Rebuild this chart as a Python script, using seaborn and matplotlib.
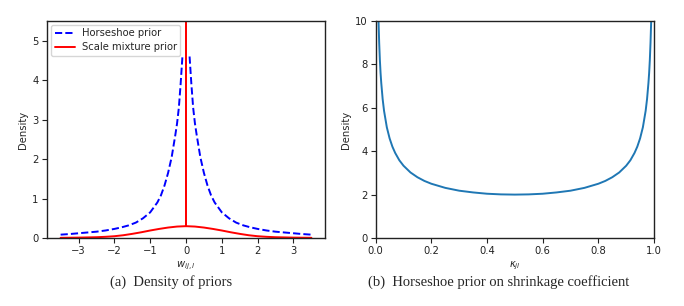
import numpy as np
import matplotlib
matplotlib.use("Agg")
import matplotlib.pyplot as plt
import seaborn as sns

# ---- data ----
# horseshoe prior (positive side; symmetric about 0, undefined at 0)
hs_x_pos = [0.1, 0.15, 0.2, 0.25, 0.3, 0.4, 0.5, 0.6, 0.7, 0.8, 1.0, 1.2, 1.4,
            1.6, 1.8, 2.0, 2.25, 2.5, 2.75, 3.0, 3.25, 3.5]
hs_y_pos = [4.6, 3.9, 3.3, 2.9, 2.6, 2.05, 1.65, 1.33, 1.08, 0.9, 0.65, 0.5, 0.39,
            0.32, 0.27, 0.23, 0.19, 0.16, 0.14, 0.12, 0.10, 0.085]
# scale mixture prior (positive side) plus spike at 0
sm_x_pos = [0.0, 0.25, 0.5, 0.75, 1.0, 1.25, 1.5, 1.75, 2.0, 2.25, 2.5, 3.0, 3.5]
sm_y_pos = [0.30, 0.29, 0.265, 0.23, 0.19, 0.145, 0.105, 0.07, 0.045, 0.03, 0.02, 0.01, 0.005]
spike_height = 100.0
# shrinkage coefficient density (left half; symmetric about 0.5)
kappa_left = [0.008, 0.01, 0.0125, 0.015, 0.0175, 0.02, 0.025, 0.03, 0.04, 0.05, 0.06,
              0.07, 0.085, 0.1, 0.125, 0.15, 0.175, 0.2, 0.25, 0.3, 0.35, 0.4, 0.45, 0.5]
dens_left = [11.2, 10.05, 9.0, 8.2, 7.6, 7.14, 6.4, 5.86, 5.1, 4.59, 4.21,
             3.92, 3.58, 3.33, 3.02, 2.8, 2.63, 2.5, 2.31, 2.18, 2.1, 2.04, 2.01, 2.0]

x_ticks_a = [-3, -2, -1, 0, 1, 2, 3]
y_ticks_a = [0, 1, 2, 3, 4, 5]
x_ticks_b = [0.0, 0.2, 0.4, 0.6, 0.8, 1.0]
y_ticks_b = [0, 2, 4, 6, 8, 10]

# ---- build symmetric series ----
hs_left_x = [-v for v in hs_x_pos[::-1]]
hs_left_y = hs_y_pos[::-1]
sm_x = [-v for v in sm_x_pos[::-1]] + [0.0, 0.0] + sm_x_pos
sm_y = sm_y_pos[::-1] + [spike_height, spike_height] + sm_y_pos
kappa = kappa_left + [1 - v for v in kappa_left[-2::-1]]
dens = dens_left + dens_left[-2::-1]

sns.set_style("ticks")
plt.rcParams["font.family"] = ["DejaVu Sans"]
plt.rcParams["axes.edgecolor"] = "#222222"
plt.rcParams["xtick.color"] = "#222222"
plt.rcParams["ytick.color"] = "#222222"
plt.rcParams["axes.linewidth"] = 1.0

fs = 7.2
fig = plt.figure(figsize=(6.84, 3.06), dpi=100)
ax1 = fig.add_axes([47 / 684, 68 / 306, 278 / 684, 217 / 306])
ax2 = fig.add_axes([375.7 / 684, 68 / 306, 278.3 / 684, 217 / 306])

sns.lineplot(x=hs_left_x, y=hs_left_y, ax=ax1, color="blue", linestyle="--",
             linewidth=1.4, label="Horseshoe prior", estimator=None, sort=False)
sns.lineplot(x=hs_x_pos, y=hs_y_pos, ax=ax1, color="blue", linestyle="--",
             linewidth=1.4, estimator=None, sort=False)
sns.lineplot(x=sm_x, y=sm_y, ax=ax1, color="red", linewidth=1.4,
             label="Scale mixture prior", estimator=None, sort=False)
ax1.set_xlim(-3.88, 3.88)
ax1.set_ylim(0, 5.5)
ax1.set_xticks(x_ticks_a)
ax1.set_yticks(y_ticks_a)
ax1.set_xticklabels(["\u22123", "\u22122", "\u22121", "0", "1", "2", "3"])
ax1.tick_params(labelsize=fs, length=3.5, width=0.8, pad=2.5)
ax1.set_xlabel("$w_{ij,l}$", fontsize=fs, labelpad=2)
ax1.set_ylabel("Density", fontsize=fs, labelpad=3)
leg = ax1.legend(loc="upper left", fontsize=fs, frameon=True,
                 handlelength=2.0, borderaxespad=0.4, borderpad=0.35,
                 handletextpad=0.7, labelspacing=0.35)
leg.get_frame().set_edgecolor("#cccccc")

sns.lineplot(x=kappa, y=dens, ax=ax2, color="#1f77b4", linewidth=1.4,
             estimator=None, sort=False)
ax2.set_xlim(0, 1)
ax2.set_ylim(0, 10)
ax2.set_xticks(x_ticks_b)
ax2.set_yticks(y_ticks_b)
ax2.tick_params(labelsize=fs, length=3.5, width=0.8, pad=2.5)
ax2.set_xlabel("$\\kappa_{jl}$", fontsize=fs, labelpad=2)
ax2.set_ylabel("Density", fontsize=fs, labelpad=3)

for ax in (ax1, ax2):
    for s in ax.spines.values():
        s.set_visible(True)

cap_font = dict(family="Liberation Serif", fontsize=10.5, ha="center", va="center")
fig.text(171 / 684, 1 - 282 / 306, "(a)  Density of priors", **cap_font)
fig.text(499 / 684, 1 - 282 / 306, "(b)  Horseshoe prior on shrinkage coefficient", **cap_font)

fig.savefig("out.png", dpi=100)
